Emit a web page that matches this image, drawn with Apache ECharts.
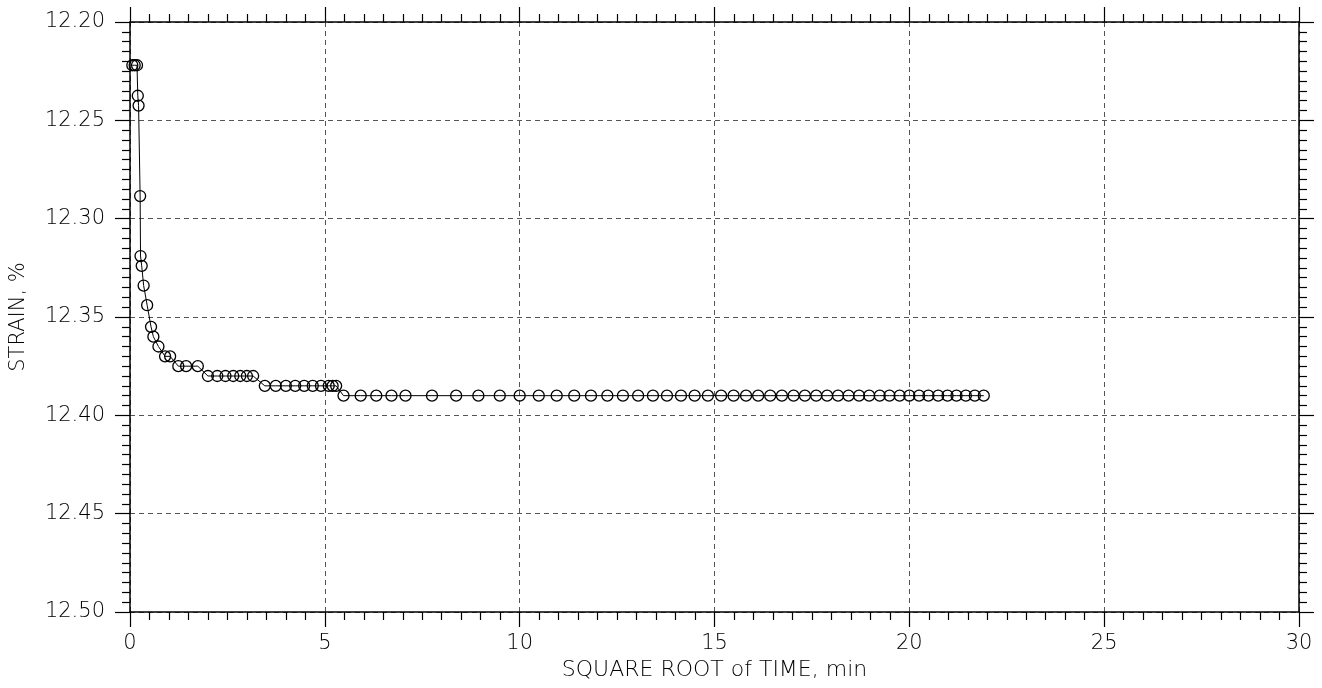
<!DOCTYPE html>
<html>
<head>
<meta charset="utf-8">
<script src="https://cdn.jsdelivr.net/npm/echarts@6/dist/echarts.min.js"></script>
<style>
html,body{margin:0;padding:0;background:#fff;}
#chart{width:1322px;height:688px;}
</style>
</head>
<body>
<div id="chart"></div>
<script>
// square root of time (min^0.5)
const sqrtTime = [0.06, 0.12, 0.18, 0.20, 0.22, 0.26, 0.27, 0.30, 0.35, 0.44, 0.54, 0.60, 0.73, 0.90, 1.03, 1.24, 1.44, 1.74,
  2.00, 2.24, 2.45, 2.65, 2.83, 3.00, 3.16, 3.46, 3.74, 4.00, 4.24, 4.47, 4.69, 4.90, 5.10, 5.20, 5.29, 5.48, 5.92, 6.32, 6.71,
  7.07, 7.75, 8.37, 8.94, 9.49, 10.00, 10.49, 10.95, 11.40, 11.83, 12.25, 12.65, 13.04, 13.42, 13.78, 14.14, 14.49, 14.83,
  15.17, 15.49, 15.81, 16.12, 16.43, 16.73, 17.03, 17.32, 17.61, 17.89, 18.17, 18.44, 18.71, 18.97, 19.24, 19.49, 19.75,
  20.00, 20.25, 20.49, 20.74, 20.98, 21.21, 21.45, 21.68, 21.91];
// strain, %
const strain = [12.222, 12.222, 12.222, 12.2375, 12.2425, 12.2885, 12.319, 12.324, 12.334, 12.344, 12.355, 12.360, 12.365, 12.370, 12.370, 12.375, 12.375, 12.375,
  12.380, 12.380, 12.380, 12.380, 12.380, 12.380, 12.380, 12.385, 12.385, 12.385, 12.385, 12.385, 12.385, 12.385, 12.385, 12.385, 12.385, 12.390, 12.390, 12.390, 12.390,
  12.390, 12.390, 12.390, 12.390, 12.390, 12.390, 12.390, 12.390, 12.390, 12.390, 12.390, 12.390, 12.390, 12.390, 12.390, 12.390, 12.390, 12.390,
  12.390, 12.390, 12.390, 12.390, 12.390, 12.390, 12.390, 12.390, 12.390, 12.390, 12.390, 12.390, 12.390, 12.390, 12.390, 12.390, 12.390,
  12.390, 12.390, 12.390, 12.390, 12.390, 12.390, 12.390, 12.390, 12.390];
const xTicks = [0, 5, 10, 15, 20, 25, 30];
const yTicks = [12.20, 12.25, 12.30, 12.35, 12.40, 12.45, 12.50];
const xName = 'SQUARE ROOT of TIME, min';
const yName = 'STRAIN, %';

const points = sqrtTime.map((x, i) => [x, strain[i]]);
const FONT = 'DejaVu Sans';
const axisLineStyle = { color: '#000', width: 1.5 };
const gridLine = { show: true, lineStyle: { color: '#555', width: 1, type: [5, 4] } };

function xAxisDef(pos, showLabels) {
  return {
    type: 'value', position: pos,
    min: xTicks[0], max: xTicks[xTicks.length - 1], interval: xTicks[1] - xTicks[0],
    axisLine: { show: true, onZero: false, lineStyle: axisLineStyle },
    axisTick: { show: true, inside: false, length: 15, lineStyle: { color: '#000', width: 1.2 } },
    minorTick: { show: true, splitNumber: 10, length: 8, lineStyle: { color: '#000', width: 1.2 } },
    splitLine: showLabels ? gridLine : { show: false },
    axisLabel: { show: showLabels, margin: 21, fontFamily: FONT, fontSize: 21, color: '#000', fontWeight: 200 },
    name: showLabels ? xName : '', nameLocation: 'middle', nameGap: 41,
    nameTextStyle: { fontFamily: FONT, fontSize: 22, color: '#000', fontWeight: 200 }
  };
}
function yAxisDef(pos, showLabels) {
  return {
    type: 'value', position: pos, inverse: true,
    min: yTicks[0], max: yTicks[yTicks.length - 1], interval: 0.05,
    axisLine: { show: true, onZero: false, lineStyle: axisLineStyle },
    axisTick: { show: true, inside: false, length: 15, lineStyle: { color: '#000', width: 1.2 } },
    minorTick: { show: true, splitNumber: 10, length: 8, lineStyle: { color: '#000', width: 1.2 } },
    splitLine: showLabels ? gridLine : { show: false },
    axisLabel: { show: showLabels, margin: 25, fontFamily: FONT, fontSize: 21, color: '#000', fontWeight: 200,
      formatter: v => v.toFixed(2) },
    name: showLabels ? yName : '', nameLocation: 'middle', nameGap: 101, nameRotate: 90,
    nameTextStyle: { fontFamily: FONT, fontSize: 21, color: '#000', fontWeight: 200 }
  };
}

const chart = echarts.init(document.getElementById('chart'), null, { renderer: 'canvas' });
chart.setOption({
  animation: false,
  backgroundColor: '#fff',
  grid: { left: 130, right: 23, top: 22, bottom: 76, containLabel: false, outerBoundsMode: 'none' },
  xAxis: [xAxisDef('bottom', true), xAxisDef('top', false)],
  yAxis: [yAxisDef('left', true), yAxisDef('right', false)],
  series: [{
    type: 'line',
    xAxisIndex: 0, yAxisIndex: 0,
    data: points,
    symbol: 'circle',
    symbolSize: 11,
    showAllSymbol: true,
    lineStyle: { color: '#000', width: 1 },
    itemStyle: { color: 'rgba(0,0,0,0)', borderColor: '#000', borderWidth: 1.3 },
    emphasis: { disabled: true }
  }]
});
</script>
</body>
</html>
